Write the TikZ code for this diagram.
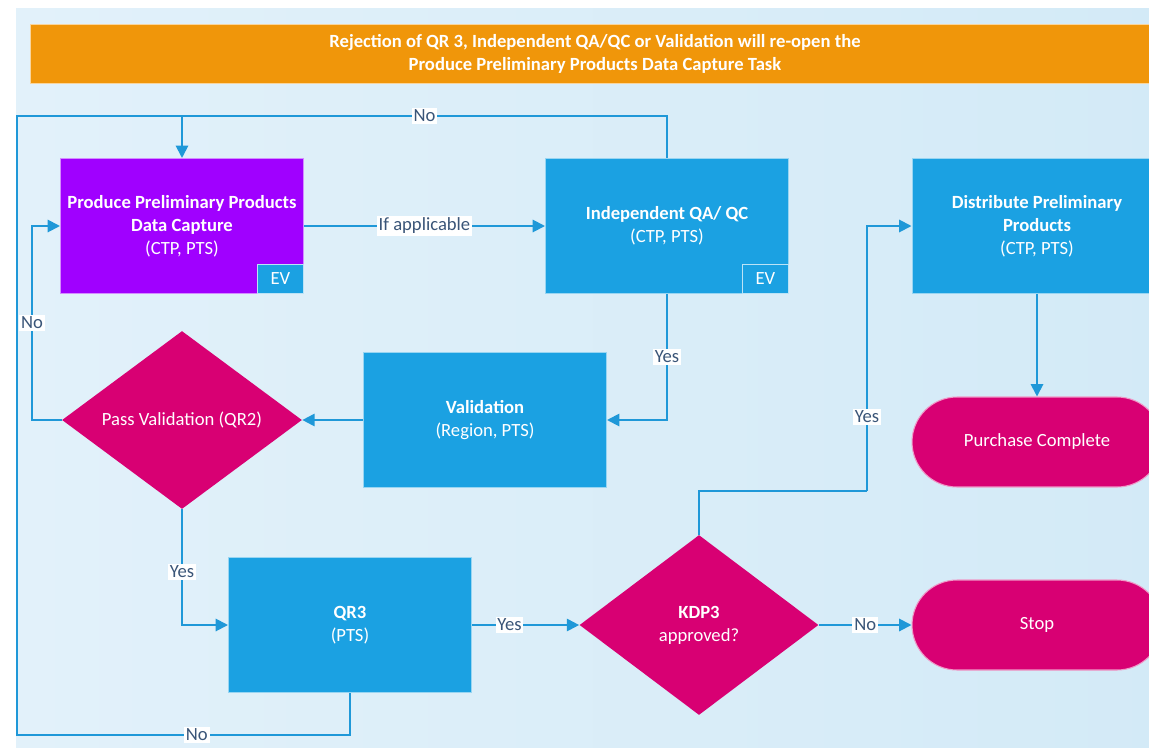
\documentclass[tikz,border=0pt]{standalone}
\usepackage{fontspec}
\setmainfont{Carlito}
\usetikzlibrary{arrows.meta,shapes.geometric}
\definecolor{bgl}{HTML}{E2F1FA}
\definecolor{bgr}{HTML}{D3EAF7}
\definecolor{procblue}{HTML}{1BA1E2}
\definecolor{flowblue}{HTML}{1F98D8}
\definecolor{decpink}{HTML}{D80073}
\definecolor{capviolet}{HTML}{A000FF}
\definecolor{noteorange}{HTML}{F0960A}
\definecolor{lbltext}{HTML}{3A5578}
\begin{document}
\begin{tikzpicture}[x=0.02cm,y=-0.02cm,
    txt/.style={text=white,align=center,font=\fontsize{10.6}{13}\selectfont},
    box/.style={txt,rectangle,fill=procblue,draw=white!55!procblue,line width=0.6pt,
      minimum width=4.86cm,minimum height=2.7cm,inner sep=2pt},
    evtag/.style={txt,rectangle,fill=procblue,draw=white!70!procblue,line width=0.6pt,
      minimum width=0.92cm,minimum height=0.58cm,inner sep=0pt,anchor=south east},
    decision/.style={txt,diamond,fill=decpink,inner sep=0pt},
    terminal/.style={txt,rectangle,rounded corners=0.9cm,fill=decpink,draw=white!60!decpink,line width=0.6pt,
      minimum width=5cm,minimum height=1.8cm},
    flow/.style={draw=flowblue,line width=1.1pt,-{Triangle[length=7pt,width=7pt]}},
    line/.style={draw=flowblue,line width=1.1pt},
    lbl/.style={fill=white,inner sep=1pt,text=lbltext,font=\fontsize{10.6}{12}\selectfont}]
    \useasboundingbox (0,0) rectangle (1149,747);
    \clip (0,0) rectangle (1149,747);
    \fill[left color=bgl,right color=bgr] (16,8) rectangle (1170,747);

    % banner
    \node[txt,rectangle,fill=noteorange,draw=white!60!noteorange,line width=0.6pt,
      minimum width=22.6cm,minimum height=1.18cm,font=\bfseries\fontsize{10.6}{13}\selectfont]
      (banner) at (595,54) {Rejection of QR 3, Independent QA/QC or Validation will re-open the\\Produce Preliminary Products Data Capture Task};

    % steps
    \node[box,fill=capviolet,draw=white!55!capviolet] (produce) at (182,226)
      {\textbf{Produce Preliminary Products}\\\textbf{Data Capture}\\(CTP, PTS)};
    \node[evtag] (evone) at (produce.south east) {EV};
    \node[box] (qa) at (667,226) {\textbf{Independent QA/ QC}\\(CTP, PTS)};
    \node[evtag] (evtwo) at (qa.south east) {EV};
    \node[box,minimum width=5cm] (dist) at (1037,226) {\textbf{Distribute Preliminary}\\\textbf{Products}\\(CTP, PTS)};
    \node[box] (valid) at (485,420) {\textbf{Validation}\\(Region, PTS)};
    \node[decision,minimum width=4.8cm,minimum height=3.56cm] (pass) at (182,420) {Pass Validation (QR2)};
    \node[box] (qr) at (350,625) {\textbf{QR3}\\(PTS)};
    \node[decision,minimum width=4.78cm,minimum height=3.6cm] (kdp) at (699,625) {\textbf{KDP3}\\approved?};
    \node[terminal] (done) at (1037,442) {Purchase Complete};
    \node[terminal] (stop) at (1037,625) {Stop};

    \coordinate (topl) at (17,116);
    \coordinate (botl) at (17,735);
    \coordinate (nol) at (32,226);
    \coordinate (yesj) at (867,491);

    % connectors
    \draw[flow] (produce.east) -- node[lbl]{If applicable} (qa.west);
    \draw[flow] (qa.north) |- node[lbl,pos=0.75]{No} (produce.north |- topl) -- (produce.north);
    \draw[line] (qr.south) |- node[lbl,pos=0.73]{No} (botl) -- (topl) -- (produce.north |- topl);
    \draw[flow] (pass.west) -| node[lbl,pos=0.75]{No} (nol) -- (produce.west);
    \draw[flow] (qa.south) |- node[lbl,pos=0.25]{Yes} (valid.east);
    \draw[flow] (valid.west) -- (pass.east);
    \draw[flow] (pass.south) |- node[lbl,pos=0.27]{Yes} (qr.west);
    \draw[flow] (qr.east) -- node[lbl,pos=0.35]{Yes} (kdp.west);
    \draw[line] (kdp.north) |- (yesj);
    \draw[flow] (yesj) |- node[lbl,pos=0.14]{Yes} (dist.west);
    \draw[flow] (kdp.east) -- node[lbl]{No} (stop.west);
    \draw[flow] (dist.south) -- (done.north);
\end{tikzpicture}
\end{document}
